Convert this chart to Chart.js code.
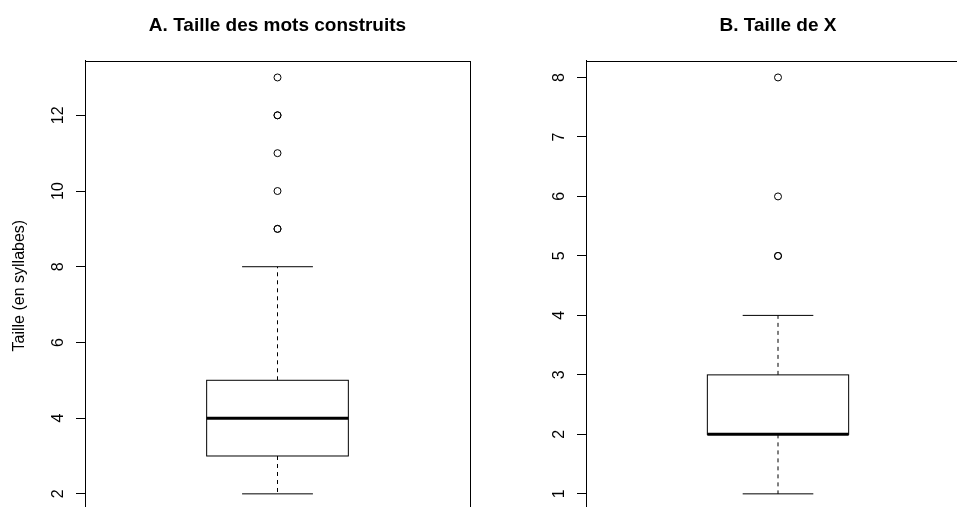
<!DOCTYPE html>
<html>
<head>
<meta charset="utf-8">
<script src="https://cdn.jsdelivr.net/npm/chart.js@4"></script>
<style>
  html, body { margin: 0; padding: 0; background: #fff; overflow: hidden; }
  canvas { position: absolute; top: 0; }
  #canvasA { left: 0; }
  #canvasB { left: 480px; }
</style>
</head>
<body>
<canvas id="canvasA" width="480" height="515"></canvas>
<canvas id="canvasB" width="500" height="515"></canvas>
<script>
// titres
const titles = ['A. Taille des mots construits', 'B. Taille de X'];
const yLabel = 'Taille (en syllabes)';

// boxplot stats: min, q1, mediane, q3, max
const statsA = [2, 3, 4, 5, 8];
const outliersA = [9, 9, 10, 11, 12, 12, 13];
const statsB = [1, 2, 2, 3, 4];
const outliersB = [5, 5, 6, 8];

// ticks + range
const yTicksA = [2, 4, 6, 8, 10, 12];
const yTicksB = [1, 2, 3, 4, 5, 6, 7, 8];
const yRangeA = [1.56, 13.44];
const yRangeB = [0.72, 8.28];

const FONT = 'Liberation Sans, Arial, Helvetica, sans-serif';
Chart.defaults.font.family = FONT;
Chart.defaults.color = '#000';

/* draws box, whiskers, median and frame using the chart scales */
const boxPlugin = {
  id: 'boxDraw',
  beforeDatasetsDraw(chart) {
    const st = chart.options.plugins.boxDraw.stats;
    const x = chart.scales.x, y = chart.scales.y;
    const ctx = chart.ctx;
    const cx = x.getPixelForValue(1);
    const bl = x.getPixelForValue(1 - 0.184), br = x.getPixelForValue(1 + 0.184);
    const cl = x.getPixelForValue(1 - 0.092), cr = x.getPixelForValue(1 + 0.092);
    const yMin = y.getPixelForValue(st[0]), yQ1 = y.getPixelForValue(st[1]);
    const yMed = y.getPixelForValue(st[2]), yQ3 = y.getPixelForValue(st[3]);
    const yMax = y.getPixelForValue(st[4]);
    ctx.save();
    ctx.strokeStyle = '#000';
    ctx.lineWidth = 1;
    // whiskers
    ctx.setLineDash([4, 4]);
    ctx.beginPath();
    ctx.moveTo(cx, yQ3); ctx.lineTo(cx, yMax);
    ctx.moveTo(cx, yQ1); ctx.lineTo(cx, yMin);
    ctx.stroke();
    ctx.setLineDash([]);
    // caps
    ctx.beginPath();
    ctx.moveTo(cl, yMax); ctx.lineTo(cr, yMax);
    ctx.moveTo(cl, yMin); ctx.lineTo(cr, yMin);
    ctx.stroke();
    // box
    ctx.fillStyle = '#fff';
    ctx.fillRect(bl, yQ3, br - bl, yQ1 - yQ3);
    ctx.strokeRect(bl, yQ3, br - bl, yQ1 - yQ3);
    // median
    ctx.lineWidth = 3;
    ctx.beginPath();
    ctx.moveTo(bl, yMed); ctx.lineTo(br, yMed);
    ctx.stroke();
    ctx.restore();
  },
  afterDraw(chart) {
    const a = chart.chartArea, ctx = chart.ctx;
    ctx.save();
    ctx.strokeStyle = '#000';
    ctx.lineWidth = 1;
    ctx.strokeRect(Math.round(a.left) + 0.5, Math.round(a.top) + 0.5,
      Math.round(a.right - a.left), Math.round(a.bottom - a.top));
    ctx.restore();
  }
};

function makePanel(id, title, stats, outliers, ticks, range, axisWidth, tickPad, showYTitle, padRight) {
  return new Chart(document.getElementById(id), {
    type: 'scatter',
    data: {
      datasets: [{
        data: outliers.map(v => ({x: 1, y: v})),
        pointRadius: 3.5,
        pointHoverRadius: 3.5,
        borderWidth: 1,
        borderColor: '#000',
        backgroundColor: 'rgba(0,0,0,0)'
      }]
    },
    options: {
      responsive: false,
      animation: false,
      layout: { padding: { left: 0, right: padRight, top: 0, bottom: 0 } },
      plugins: {
        legend: { display: false },
        tooltip: { enabled: false },
        title: {
          display: true,
          text: title,
          fullSize: false,
          color: '#000',
          font: { size: 19, weight: 'bold', family: FONT },
          padding: { top: 14, bottom: 24 }
        },
        boxDraw: { stats: stats }
      },
      scales: {
        x: { type: 'linear', min: 0.5, max: 1.5, display: false },
        y: {
          type: 'linear',
          min: range[0],
          max: range[1],
          afterBuildTicks: axis => { axis.ticks = ticks.map(v => ({value: v})); },
          afterFit: scale => {
            scale.width = axisWidth;
            scale.paddingTop = 0;
            scale.paddingBottom = 0;
          },
          ticks: {
            minRotation: 90,
            maxRotation: 90,
            crossAlign: 'center',
            padding: tickPad,
            color: '#000',
            font: { size: 16, family: FONT }
          },
          grid: {
            display: true,
            drawOnChartArea: false,
            drawTicks: true,
            tickLength: 9,
            color: '#000'
          },
          border: { display: true, color: '#000', width: 1 },
          title: {
            display: showYTitle,
            text: yLabel,
            color: '#000',
            font: { size: 16, family: FONT },
            padding: { top: 10, bottom: 0 }
          }
        }
      }
    },
    plugins: [boxPlugin]
  });
}

makePanel('canvasA', titles[0], statsA, outliersA, yTicksA, yRangeA, 85, 8.5, true, 10);
makePanel('canvasB', titles[1], statsB, outliersB, yTicksB, yRangeB, 106, 13, false, 10);
</script>
</body>
</html>
